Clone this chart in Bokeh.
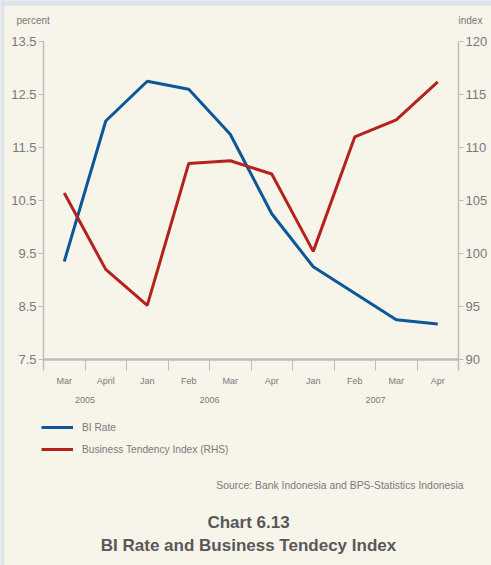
from bokeh.plotting import figure
from bokeh.models import (Range1d, LinearAxis, FixedTicker, Label, BoxAnnotation)
from bokeh.embed import file_html
from bokeh.resources import INLINE

# --- data ---------------------------------------------------------------
months = ["Mar", "April", "Jan", "Feb", "Mar", "Apr", "Jan", "Feb", "Mar", "Apr"]
years = ["2005", "2006", "2007"]
year_spans = [(0, 2), (2, 6), (6, 10)]          # category index span of each year
bi_rate = [9.35, 12.0, 12.75, 12.6, 11.75, 10.25, 9.25, 8.75, 8.25, 8.17]
business_tendency = [105.7, 98.5, 95.1, 108.5, 108.75, 107.5, 100.2, 111.0, 112.6, 116.2]
left_ticks = [7.5, 8.5, 9.5, 10.5, 11.5, 12.5, 13.5]
right_ticks = [90, 95, 100, 105, 110, 115, 120]

# --- layout & style -----------------------------------------------------
W, H = 491, 565
FL, FR, FT, FB = 43, 458, 41, 359            # chart box edges in canvas pixels
N = len(months)
BG = "#f7f4ea"
AXIS = "#bdbdbd"
TXT = "#7a7a7a"
FONT = "Liberation Sans"
BLUE = "#0b5797"
RED = "#b5221d"

L_MIN, L_MAX = left_ticks[0], left_ticks[-1]
R_MIN, R_MAX = right_ticks[0], right_ticks[-1]

# The plot frame fills the whole canvas; the axes are pinned inside it.
px_x = (FR - FL) / N
px_l = (FB - FT) / (L_MAX - L_MIN)
px_r = (FB - FT) / (R_MAX - R_MIN)
x_range = Range1d(-FL / px_x, N + (W - FR) / px_x)
y_range = Range1d(L_MIN - (H - FB) / px_l, L_MAX + FT / px_l)
r_range = Range1d(R_MIN - (H - FB) / px_r, R_MAX + FT / px_r)
TAIL = 11                                    # axis overhang below the chart box

xs = [i + 0.5 for i in range(N)]

p = figure(width=W, height=H, output_backend="svg", toolbar_location=None,
           x_range=x_range, y_range=y_range,
           min_border=0, x_axis_location=None, y_axis_location=None)
p.extra_y_ranges = {"idx": r_range}
p.background_fill_color = BG
p.border_fill_color = BG
p.outline_line_color = None
p.grid.visible = False


def scr(px, py):
    """Canvas pixel (from top-left) -> screen units (from bottom-left)."""
    return px, H - py


# page edge: light band along the top and left
p.add_layout(BoxAnnotation(left=0, right=W, top=H, bottom=H - 5,
                           left_units="screen", right_units="screen",
                           top_units="screen", bottom_units="screen",
                           fill_color="#e0e4ee", fill_alpha=1,
                           line_color="#c8c8c8", line_width=1, level="underlay"))
p.add_layout(BoxAnnotation(left=0, right=3, top=H, bottom=0,
                           left_units="screen", right_units="screen",
                           top_units="screen", bottom_units="screen",
                           fill_color="#e0e4ee", fill_alpha=1,
                           line_color="#c4c8d4", line_width=1, level="underlay"))

# left axis (percent)
ax_l = LinearAxis(ticker=FixedTicker(ticks=left_ticks), fixed_location=0,
                  bounds=(L_MIN - TAIL / px_l, L_MAX))
ax_l.major_label_overrides = {v: f"{v:.1f}" for v in left_ticks}
# right axis (index)
ax_r = LinearAxis(y_range_name="idx", ticker=FixedTicker(ticks=right_ticks),
                  fixed_location=N, bounds=(R_MIN - TAIL / px_r, R_MAX))
for ax in (ax_l, ax_r):
    ax.axis_line_color = AXIS
    ax.axis_line_width = 1.5
    ax.major_tick_line_color = AXIS
    ax.major_tick_in = 0
    ax.major_tick_out = 5
    ax.minor_tick_line_color = None
    ax.minor_tick_out = 0
    ax.major_label_text_font = FONT
    ax.major_label_text_font_size = "13px"
    ax.major_label_text_color = TXT
    ax.major_label_standoff = 2
p.add_layout(ax_l, "left")
p.add_layout(ax_r, "right")

# bottom axis: month names at category centres, ticks at boundaries
ax_m = LinearAxis(ticker=FixedTicker(ticks=xs, minor_ticks=list(range(N + 1))),
                  fixed_location=L_MIN, bounds=(0, N))
ax_m.major_label_overrides = {x: m for x, m in zip(xs, months)}
ax_m.axis_line_color = AXIS
ax_m.axis_line_width = 2.5
ax_m.major_tick_line_color = None
ax_m.major_tick_in = 0
ax_m.major_tick_out = 0
ax_m.minor_tick_line_color = AXIS
ax_m.minor_tick_line_width = 1
ax_m.minor_tick_in = 0
ax_m.minor_tick_out = TAIL
ax_m.major_label_text_font = FONT
ax_m.major_label_text_font_size = "9px"
ax_m.major_label_text_color = TXT
ax_m.major_label_standoff = 5
p.add_layout(ax_m, "below")

# second bottom axis: year labels centred under their months
year_pos = [(a + b) / 2 for a, b in year_spans]
ax_y = LinearAxis(ticker=FixedTicker(ticks=year_pos), fixed_location=L_MIN)
ax_y.major_label_overrides = {x: y for x, y in zip(year_pos, years)}
ax_y.axis_line_color = None
ax_y.major_tick_line_color = None
ax_y.minor_tick_line_color = None
ax_y.major_tick_out = 0
ax_y.major_tick_in = 0
ax_y.minor_tick_out = 0
ax_y.minor_tick_in = 0
ax_y.major_label_text_font = FONT
ax_y.major_label_text_font_size = "9px"
ax_y.major_label_text_color = TXT
ax_y.major_label_standoff = 37
p.add_layout(ax_y, "below")

# series
p.line(xs, bi_rate, line_color=BLUE, line_width=3, legend_label="BI Rate")
p.line(xs, business_tendency, y_range_name="idx", line_color=RED, line_width=3,
       legend_label="Business Tendency Index (RHS)")

lg = p.legend[0]
lg.location = scr(41, 459)
lg.orientation = "vertical"
lg.background_fill_alpha = 0
lg.border_line_color = None
lg.margin = 0
lg.padding = 0
lg.spacing = 2
lg.glyph_width = 32
lg.glyph_height = 20
lg.label_height = 20
lg.label_standoff = 9
lg.label_text_font = FONT
lg.label_text_font_size = "10.2px"
lg.label_text_color = TXT

# axis units
for text, px in (("percent", 16), ("index", 458)):
    x, y = scr(px, 20)
    p.add_layout(Label(x=x, y=y, x_units="screen", y_units="screen", text=text,
                       text_font=FONT, text_font_size="10px", text_color=TXT,
                       text_align="left", text_baseline="middle"))

# source note and caption
x, y = scr(463, 485)
p.add_layout(Label(x=x, y=y, x_units="screen", y_units="screen",
                   text="Source: Bank Indonesia and BPS-Statistics Indonesia",
                   text_font=FONT, text_font_size="10.4px", text_color=TXT,
                   text_align="right", text_baseline="middle"))
for text, py in (("Chart 6.13", 522), ("BI Rate and Business Tendecy Index", 545)):
    x, y = scr(248, py)
    p.add_layout(Label(x=x, y=y, x_units="screen", y_units="screen", text=text,
                       text_font=FONT, text_font_size="17px", text_font_style="bold",
                       text_color="#585858", text_align="center", text_baseline="middle"))

open("out.html", "w").write(file_html(p, INLINE))
